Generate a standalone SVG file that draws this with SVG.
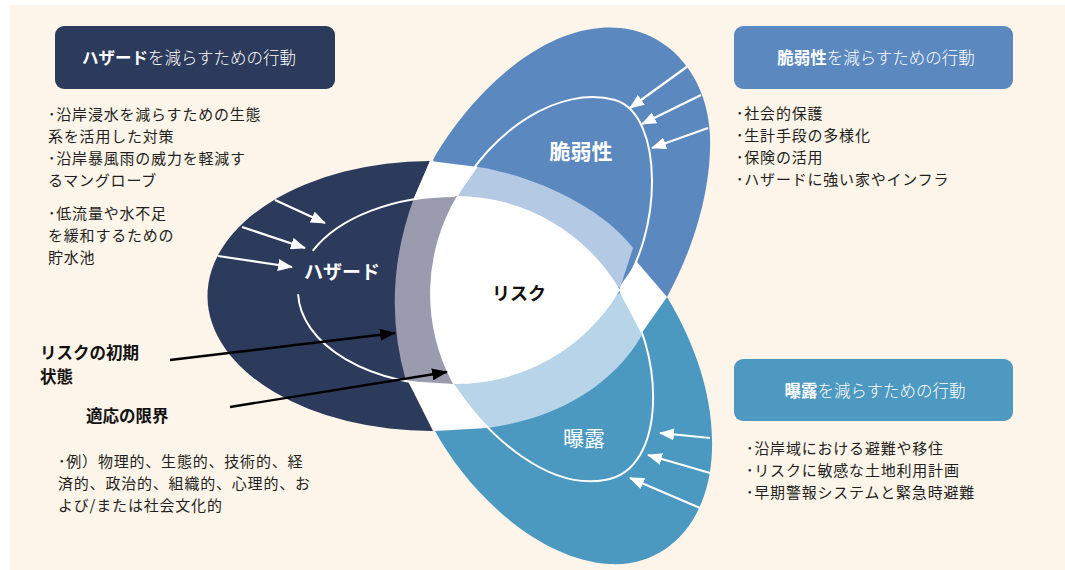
<svg xmlns="http://www.w3.org/2000/svg" width="1065" height="570" viewBox="0 0 1065 570">
<defs>
<style>
.t{font-family:"Noto Sans CJK JP","Noto Sans",sans-serif}
.body{font-size:15px;fill:#231f20;letter-spacing:0.8px}
.hd{font-size:16.5px;fill:#fff;font-weight:300}
.bd{font-weight:bold}
.wl{fill:none;stroke:#fff;stroke-width:2}
.wa{fill:none;stroke:#fff;stroke-width:2.2;marker-end:url(#wh)}
.ka{fill:none;stroke:#000;stroke-width:2.4;marker-end:url(#kh)}
.gap{fill:#fff}
</style>
<marker id="wh" markerUnits="userSpaceOnUse" markerWidth="15" markerHeight="12" refX="14" refY="6" orient="auto"><path d="M0,0 L15,6 L0,12 Z" fill="#fff"/></marker>
<marker id="kh" markerUnits="userSpaceOnUse" markerWidth="16" markerHeight="12" refX="15" refY="6" orient="auto"><path d="M0,0 L16,6 L0,12 Z" fill="#000"/></marker>
</defs>
<rect x="0" y="0" width="1065" height="570" fill="#fff"/>
<rect x="10" y="5" width="1055" height="565" fill="#fdf5ea"/>

<g id="hazard">
<path d="M430,161 A224,135 0 0 0 433,431 L408,381 L440,290 L414,198 Z" fill="#2c3a5b"/>
</g>
<g id="vulnerability">
<path d="M433,160 C455,120 520,35 600,28 C665,22 708,75 710,135 C712,195 690,255 667,297 L620,290 L457,196 Z" fill="#5b88bf"/>
</g>
<g id="exposure">
<path d="M435,431 C470,495 540,560 610,564 C668,567 710,520 712,450 C714,390 690,335 667,297 L620,290 L452,383 Z" fill="#4b98c1"/>
</g>

<g id="overlaps">
<path class="gap" d="M430,161 L478,167 L458,196 L414,198 Z"/>
<path class="gap" d="M620,286 L637,262 L667,297 L641,334 L620,294 Z"/>
<path class="gap" d="M408,381 L454,384 L487,428 L435,431 Z"/>
<path d="M414,198 L457,196 L454,384 L406,381 Q380,290 414,198 Z" fill="#9b9bb0"/>
<path d="M457,196 L478,167 C530,175 600,205 633,248 L620,288 Z" fill="#b4c9e4"/>
<path d="M454,385 L487,428 C550,420 610,390 642,335 L620,293 Z" fill="#b7d4e9"/>
</g>

<g id="risk">
<path d="M457,196 A190,190 0 0 1 620,290 A190,190 0 0 1 453,384 A190,190 0 0 1 457,196 Z" fill="#fff"/>
<text class="t bd" x="519" y="300" font-size="18" text-anchor="middle" fill="#111">リスク</text>
</g>

<g id="reduced-outlines">
<path class="wl" d="M455,196 A157,95 0 0 0 312.7,250.9"/>
<path class="wl" d="M298.1,294.3 A157,95 0 0 0 455,386"/>
<path class="wl" d="M457,196 C490,130 560,85 615,100 C665,115 662,235 620,290"/>
<path class="wl" d="M453,384 C490,440 550,490 605,480 C668,470 665,350 620,290"/>
</g>

<g id="hazard-label"><text class="t bd" x="342" y="279" font-size="19" text-anchor="middle" fill="#fff">ハザード</text></g>
<g id="vulnerability-label"><text class="t bd" x="581" y="159" font-size="21" text-anchor="middle" fill="#fff">脆弱性</text></g>
<g id="exposure-label"><text class="t" x="584" y="446" font-size="21" text-anchor="middle" fill="#fff">曝露</text></g>

<g id="hazard-actions">
<rect x="55" y="26" width="280" height="63" rx="9" fill="#2c3a5b"/>
<text class="t hd" x="189" y="63.5" text-anchor="middle"><tspan class="bd">ハザード</tspan>を減らすための行動</text>
<text class="t body"><tspan x="48" y="119.5">･沿岸浸水を減らすための生態</tspan><tspan x="48" y="141.5">系を活用した対策</tspan><tspan x="48" y="163.5">･沿岸暴風雨の威力を軽減す</tspan><tspan x="48" y="185.5">るマングローブ</tspan></text>
<text class="t body"><tspan x="48" y="218.5">･低流量や水不足</tspan><tspan x="48" y="240.5">を緩和するための</tspan><tspan x="48" y="262.5">貯水池</tspan></text>
</g>

<g id="vulnerability-actions">
<rect x="734" y="26" width="279" height="63" rx="9" fill="#5b88bf"/>
<text class="t hd" x="876" y="63.5" text-anchor="middle"><tspan class="bd">脆弱性</tspan>を減らすための行動</text>
<text class="t body"><tspan x="736" y="118.5">･社会的保護</tspan><tspan x="736" y="140.5">･生計手段の多様化</tspan><tspan x="736" y="162.5">･保険の活用</tspan><tspan x="736" y="184.5">･ハザードに強い家やインフラ</tspan></text>
</g>

<g id="exposure-actions">
<rect x="734" y="359" width="279" height="62" rx="9" fill="#4d99c1"/>
<text class="t hd" x="875" y="396.5" text-anchor="middle"><tspan class="bd">曝露</tspan>を減らすための行動</text>
<text class="t body"><tspan x="746" y="453.5">･沿岸域における避難や移住</tspan><tspan x="746" y="475.5">･リスクに敏感な土地利用計画</tspan><tspan x="746" y="497.5">･早期警報システムと緊急時避難</tspan></text>
</g>

<g id="initial-risk-label">
<text class="t bd" font-size="16.5" fill="#111"><tspan x="40" y="359">リスクの初期</tspan><tspan x="40" y="383">状態</tspan></text>
</g>
<g id="adaptation-limits-label">
<text class="t bd" x="86" y="422" font-size="16.5" fill="#111">適応の限界</text>
<text class="t body"><tspan x="58" y="466.5">･例）物理的、生態的、技術的、経</tspan><tspan x="58" y="488.5">済的、政治的、組織的、心理的、お</tspan><tspan x="58" y="510.5">よび/または社会文化的</tspan></text>
</g>

<g id="connectors">
<path class="wa" d="M275,200 L325,223"/>
<path class="wa" d="M242,227 L305,248"/>
<path class="wa" d="M218,256 L292,267"/>
<path class="wa" d="M688,66 L630,108"/>
<path class="wa" d="M701,95 L642,124"/>
<path class="wa" d="M708,128 L652,148"/>
<path class="wa" d="M710,438 L660,433"/>
<path class="wa" d="M710,473 L648,455"/>
<path class="wa" d="M700,508 L630,478"/>
<path class="ka" d="M170,360 L395,333"/>
<path class="ka" d="M230,407 L447,372"/>
</g>
</svg>
